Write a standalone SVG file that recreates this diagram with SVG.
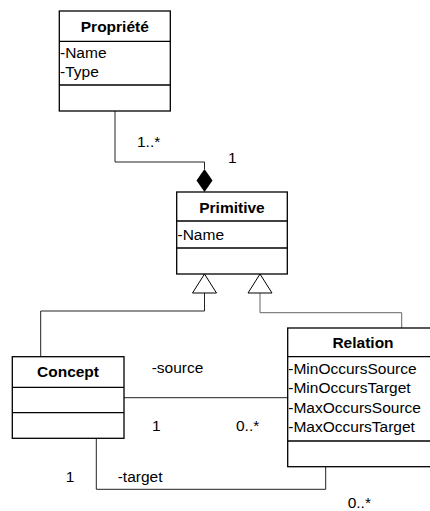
<svg xmlns="http://www.w3.org/2000/svg" width="430" height="511" viewBox="0 0 430 511">
<style>
.box{fill:#fff;stroke:#000;stroke-width:1.3}
.sep{stroke:#000;stroke-width:1.3}
.ln{fill:none;stroke:#222;stroke-width:1}
.t{font-family:"Liberation Sans",Arial,sans-serif;font-size:15.5px;fill:#000}
.h{font-weight:bold;text-anchor:middle}
.tri{fill:#fff;stroke:#000;stroke-width:1}
</style>
<rect width="430" height="511" fill="#fff"/>
<g id="connectors">
  <polyline class="ln" points="115,111 115,162 204.5,162 204.5,169"/>
  <polygon points="204.5,169 212.5,180.5 204.5,192 196.5,180.5" fill="#000"/>
  <polyline class="ln" points="204.5,293 204.5,311 40.7,311 40.7,357"/>
  <polygon class="tri" points="204.5,274 216.5,293 192.5,293"/>
  <polyline class="ln" style="stroke:#666" points="260,293 260,312.7 401.7,312.7 401.7,328"/>
  <polygon class="tri" points="260,274 272,293 248,293"/>
  <line class="ln" x1="124" y1="397.7" x2="288" y2="397.7"/>
  <polyline class="ln" points="96.3,438 96.3,489.3 325.7,489.3 325.7,467"/>
  <text class="t" x="137" y="147">1..*</text>
  <text class="t" x="228" y="163">1</text>
  <text class="t" x="151.7" y="373">-source</text>
  <text class="t" x="152" y="431">1</text>
  <text class="t" x="236" y="431">0..*</text>
  <text class="t" x="65.7" y="482">1</text>
  <text class="t" x="117.7" y="482">-target</text>
  <text class="t" x="347.7" y="508">0..*</text>
</g>
<g id="propriete">
  <rect class="box" x="59.3" y="11" width="111" height="100"/>
  <line class="sep" x1="59.3" y1="41.3" x2="170.3" y2="41.3"/>
  <line class="sep" x1="59.3" y1="85" x2="170.3" y2="85"/>
  <text class="t h" x="114.8" y="31.7">Propriété</text>
  <text class="t" x="60" y="58.3">-Name</text>
  <text class="t" x="60" y="76.5">-Type</text>
</g>
<g id="primitive">
  <rect class="box" x="176.7" y="192" width="110.6" height="82"/>
  <line class="sep" x1="176.7" y1="221" x2="287.3" y2="221"/>
  <line class="sep" x1="176.7" y1="248" x2="287.3" y2="248"/>
  <text class="t h" x="232" y="212.7">Primitive</text>
  <text class="t" x="177.5" y="240">-Name</text>
</g>
<g id="concept">
  <rect class="box" x="12.3" y="356.7" width="111.7" height="81.6"/>
  <line class="sep" x1="12.3" y1="387.3" x2="124" y2="387.3"/>
  <line class="sep" x1="12.3" y1="412.7" x2="124" y2="412.7"/>
  <text class="t h" x="68" y="377">Concept</text>
</g>
<g id="relation">
  <rect class="box" x="287.7" y="328" width="150" height="138.7"/>
  <line class="sep" x1="287.7" y1="356.7" x2="437.7" y2="356.7"/>
  <line class="sep" x1="287.7" y1="441" x2="437.7" y2="441"/>
  <text class="t h" x="363" y="348.3">Relation</text>
  <text class="t" x="288.3" y="374">-MinOccursSource</text>
  <text class="t" x="288.3" y="393.3">-MinOccursTarget</text>
  <text class="t" x="288.3" y="412.6">-MaxOccursSource</text>
  <text class="t" x="288.3" y="432">-MaxOccursTarget</text>
</g>
</svg>
